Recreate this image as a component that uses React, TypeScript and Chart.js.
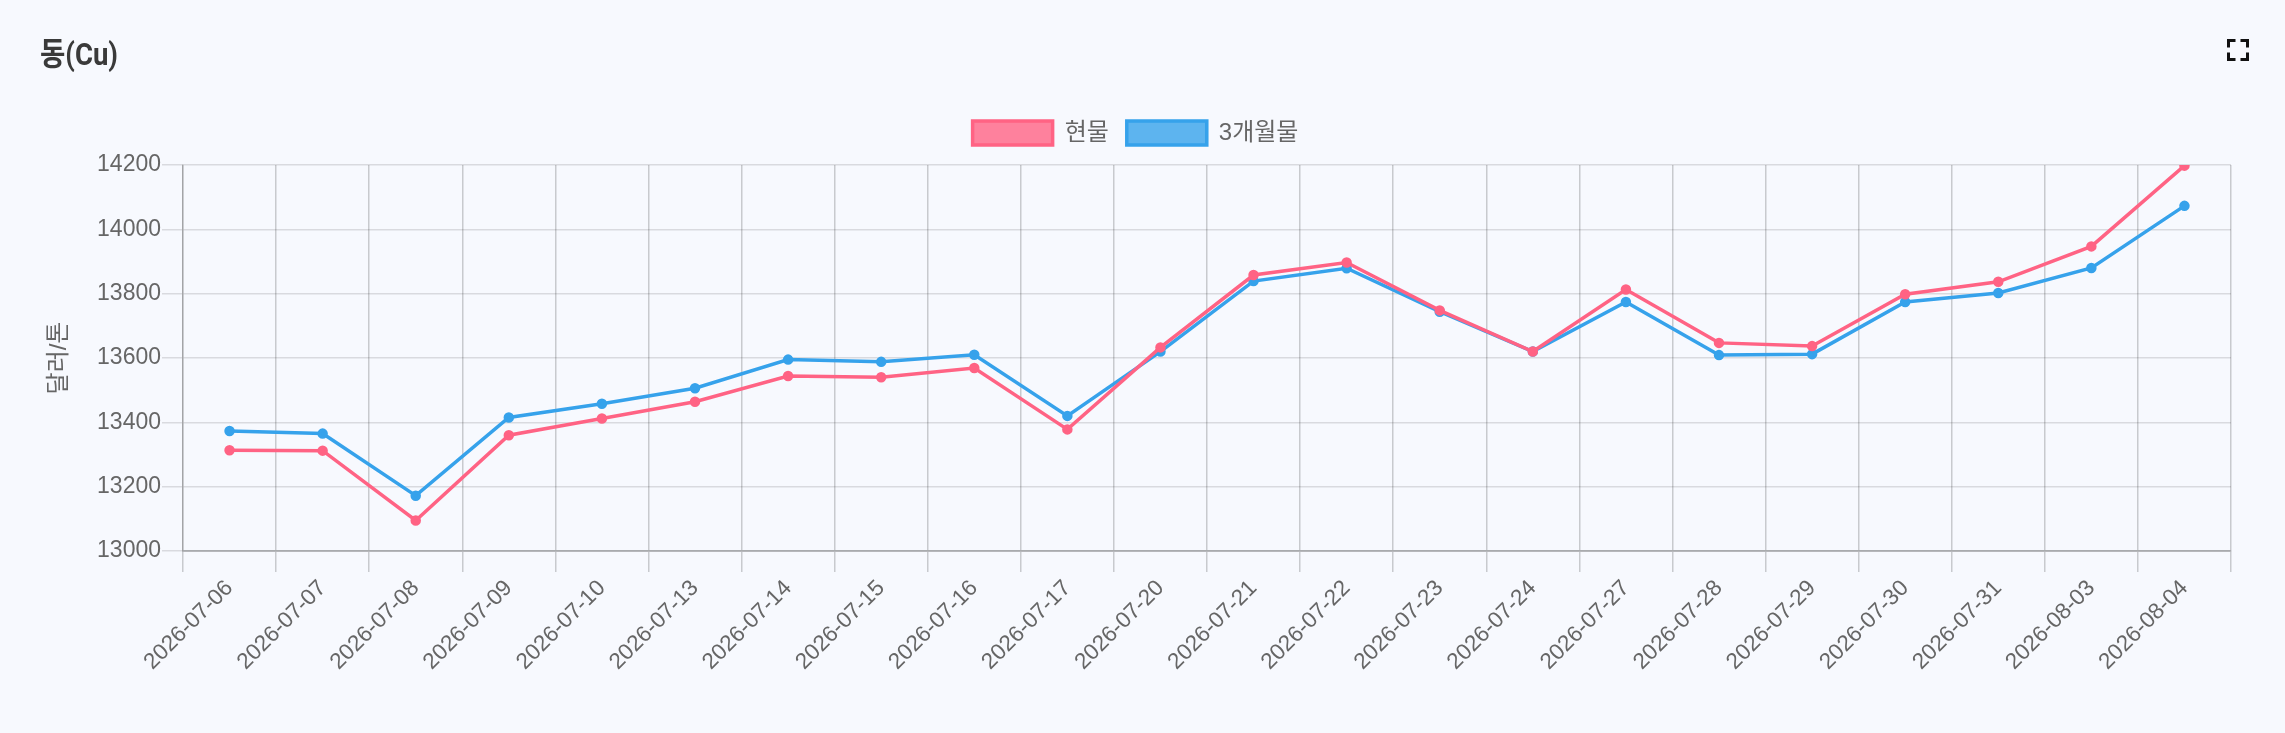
import React, { useEffect, useRef } from "react";
import { Chart, registerables } from "chart.js";

Chart.register(...registerables);

const TITLE = "동(Cu)";
const Y_TITLE = "달러/톤";
const SERIES_NAMES = ["현물", "3개월물"];
const DATES = [
  "2026-07-06", "2026-07-07", "2026-07-08", "2026-07-09", "2026-07-10",
  "2026-07-13", "2026-07-14", "2026-07-15", "2026-07-16", "2026-07-17",
  "2026-07-20", "2026-07-21", "2026-07-22", "2026-07-23", "2026-07-24",
  "2026-07-27", "2026-07-28", "2026-07-29", "2026-07-30", "2026-07-31",
  "2026-08-03", "2026-08-04",
];
const SPOT = [
  13313, 13312, 13095, 13360, 13412, 13464, 13544, 13540, 13569, 13378,
  13633, 13858, 13897, 13748, 13620, 13813, 13647, 13637, 13798, 13837,
  13947, 14198,
];
const THREE_MONTH = [
  13373, 13365, 13172, 13415, 13458, 13506, 13595, 13588, 13610, 13420,
  13620, 13839, 13879, 13744, 13620, 13774, 13609, 13612, 13774, 13802,
  13880, 14073,
];
const Y_MIN = 13000;
const Y_MAX = 14200;
const Y_STEP = 200;

const FONT = "'Liberation Sans', Arial, 'Noto Sans CJK KR', sans-serif";
const BG = "#f7f9fe";
const LEGEND_GAP = 10;

const legendGap = {
  id: "legendGap",
  beforeInit(chart: any) {
    const l = chart.legend;
    if (!l) return;
    const fit = l.fit;
    l.fit = function () {
      fit.call(this);
      this.height += LEGEND_GAP;
    };
  },
};

function CopperChart() {
  const ref = useRef<HTMLCanvasElement | null>(null);
  useEffect(() => {
    if (!ref.current) return;
    const chart = new Chart(ref.current, {
      type: "line",
      data: {
        labels: DATES,
        datasets: [
          {
            label: SERIES_NAMES[0],
            data: SPOT,
            borderColor: "#FF6384",
            backgroundColor: "rgba(255,99,132,0.8)",
            pointBackgroundColor: "#FF6384",
            pointBorderColor: "#FF6384",
            borderWidth: 3.5,
            pointRadius: 3.5,
            tension: 0,
          },
          {
            label: SERIES_NAMES[1],
            data: THREE_MONTH,
            borderColor: "#36A2EB",
            backgroundColor: "rgba(54,162,235,0.8)",
            pointBackgroundColor: "#36A2EB",
            pointBorderColor: "#36A2EB",
            borderWidth: 3.5,
            pointRadius: 3.5,
            tension: 0,
          },
        ],
      },
      options: {
        responsive: false,
        animation: false,
        devicePixelRatio: 1,
        layout: { padding: { top: 103, left: 40, right: 54, bottom: 0 } },
        plugins: {
          legend: {
            position: "top",
            labels: {
              boxWidth: 80,
              boxHeight: 24,
              padding: 18,
              color: "#666",
              font: { size: 24, family: FONT },
            },
          },
          tooltip: { enabled: false },
        },
        scales: {
          x: {
            offset: true,
            grid: {
              offset: true,
              color: (ctx: any) =>
                ctx.index >= DATES.length ? "rgba(0,0,0,0)" : "rgba(0,0,0,0.19)",
              lineWidth: 1.5,
              tickLength: 21,
            },
            border: { color: "rgba(0,0,0,0.22)", width: 2 },
            ticks: {
              autoSkip: false,
              minRotation: 45,
              maxRotation: 45,
              padding: 3,
              color: "#666",
              font: { size: 22.5, family: FONT },
            },
            afterFit: (s: any) => {
              s.height = 182;
            },
          },
          y: {
            min: Y_MIN,
            max: Y_MAX,
            ticks: {
              stepSize: Y_STEP,
              padding: 1,
              color: "#666",
              font: { size: 23, family: FONT },
              callback: (v: any) => String(v),
            },
            grid: { color: "rgba(0,0,0,0.12)", lineWidth: 1.5, tickLength: 21 },
            border: { color: "rgba(0,0,0,0.19)", width: 1.5 },
            title: {
              display: true,
              text: Y_TITLE,
              color: "#666",
              font: { size: 24, family: FONT },
              padding: { top: 5, bottom: 0 },
            },
            afterFit: (s: any) => {
              s.width = 143;
            },
          },
        },
      },
      plugins: [legendGap],
    });
    return () => chart.destroy();
  }, []);
  return (
    <canvas
      ref={ref}
      width={2285}
      height={733}
      style={{ position: "absolute", left: 0, top: 0, width: 2285, height: 733, display: "block" }}
    />
  );
}

function FullscreenIcon() {
  return (
    <svg
      width={22}
      height={22}
      viewBox="0 0 22 22"
      style={{ position: "absolute", left: 2227, top: 39 }}
    >
      <g fill="none" stroke="#111" strokeWidth={3} strokeLinecap="square">
        <path d="M1.5 7 V1.5 H7" />
        <path d="M15 1.5 H20.5 V7" />
        <path d="M20.5 15 V20.5 H15" />
        <path d="M7 20.5 H1.5 V15" />
      </g>
    </svg>
  );
}

export default function App() {
  return (
    <div
      style={{
        position: "absolute",
        left: 0,
        top: 0,
        width: 2285,
        height: 733,
        background: BG,
        overflow: "hidden",
      }}
    >
      <CopperChart />
      <div
        style={{
          position: "absolute",
          left: 40,
          top: 38,
          fontFamily: "Roboto, 'Noto Sans CJK KR', sans-serif",
          fontWeight: 700,
          fontSize: 32,
          lineHeight: "32px",
          color: "#3a3a3a",
          transform: "scaleX(0.86)",
          transformOrigin: "left top",
          whiteSpace: "nowrap",
        }}
      >
        {TITLE}
      </div>
      <FullscreenIcon />
    </div>
  );
}
